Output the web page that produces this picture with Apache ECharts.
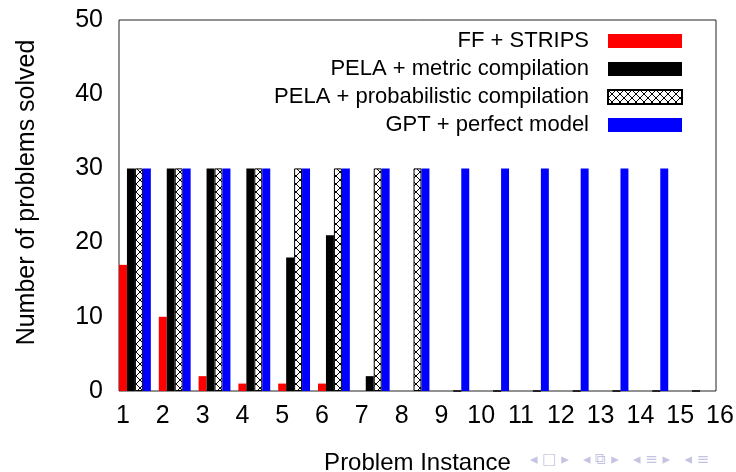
<!DOCTYPE html>
<html>
<head>
<meta charset="utf-8">
<script src="https://cdn.jsdelivr.net/npm/echarts@6/dist/echarts.min.js"></script>
<style>
  html, body { margin: 0; padding: 0; background: #fff; }
  #chart { width: 736px; height: 472px; }
</style>
</head>
<body>
<div id="chart"></div>
<script>
// problem instances 1..15 (axis runs to 16)
const instances = ["1", "2", "3", "4", "5", "6", "7", "8", "9", "10", "11", "12", "13", "14", "15"];
const ffStrips = [17, 10, 2, 1, 1, 1, 0, 0, 0, 0, 0, 0, 0, 0, 0];
const pelaMetric = [30, 30, 30, 30, 18, 21, 2, 0, 0, 0, 0, 0, 0, 0, 0];
const pelaProb = [30, 30, 30, 30, 30, 30, 30, 30, 0, 0, 0, 0, 0, 0, 0];
const gptPerfect = [30, 30, 30, 30, 30, 30, 30, 30, 30, 30, 30, 30, 30, 30, 0];
const seriesNames = [
  "FF + STRIPS",
  "PELA + metric compilation",
  "PELA + probabilistic compilation",
  "GPT + perfect model",
];

const font = "Liberation Sans, Arial, Helvetica, sans-serif";

// 交叉网格填充
const hatch = document.createElement("canvas");
hatch.width = 8;
hatch.height = 8;
const hctx = hatch.getContext("2d");
hctx.fillStyle = "#fff";
hctx.fillRect(0, 0, 8, 8);
hctx.strokeStyle = "#000";
hctx.lineWidth = 1;
hctx.beginPath();
hctx.moveTo(0, 0);
hctx.lineTo(8, 8);
hctx.moveTo(8, 0);
hctx.lineTo(0, 8);
hctx.stroke();

const chart = echarts.init(document.getElementById("chart"));

const options = {
  animation: false,
  grid: {
    left: 119,
    right: 20,
    top: 20,
    bottom: 81,
    outerBoundsMode: "none",
    containLabel: false,
    show: true,
    borderColor: "#222",
    borderWidth: 1,
  },
  legend: {
    orient: "vertical",
    right: 53,
    top: 30,
    align: "right",
    padding: 0,
    itemWidth: 74,
    itemHeight: 14,
    itemGap: 6,
    icon: "rect",
    data: seriesNames,
    textStyle: {
      color: "#000",
      fontSize: 22,
      fontFamily: font,
      padding: [0, 14, 0, 0],
    },
  },
  xAxis: [
    {
      // bars sit in bands [i, i+1]
      type: "category",
      data: instances,
      boundaryGap: true,
      position: "bottom",
      show: false,
    },
    {
      type: "value",
      min: 1,
      max: 16,
      interval: 1,
      position: "bottom",
      name: "Problem Instance",
      nameLocation: "middle",
      nameGap: 60,
      nameTextStyle: { color: "#000", fontSize: 24, fontFamily: font },
      axisLine: { show: false },
      axisTick: { show: false },
      splitLine: { show: false },
      axisLabel: {
        color: "#000",
        fontSize: 25,
        fontFamily: font,
        margin: 13,
        padding: [0, 0, 0, 8],
      },
    },
  ],
  yAxis: {
    type: "value",
    min: 0,
    max: 50,
    interval: 10,
    name: "Number of problems solved",
    nameLocation: "middle",
    nameRotate: 90,
    nameGap: 79,
    nameTextStyle: {
      color: "#000",
      fontSize: 25,
      fontFamily: font,
      padding: [0, 0, 0, 26],
    },
    axisLine: { show: false },
    axisTick: { show: false },
    splitLine: { show: false },
    axisLabel: { color: "#000", fontSize: 25, fontFamily: font, margin: 16 },
  },
  series: [
    {
      name: seriesNames[0],
      type: "bar",
      xAxisIndex: 0,
      barGap: "0%",
      barCategoryGap: "0%",
      data: ffStrips,
      itemStyle: { color: "#ff0000" },
    },
    {
      name: seriesNames[1],
      type: "bar",
      xAxisIndex: 0,
      data: pelaMetric,
      itemStyle: { color: "#000000" },
    },
    {
      name: seriesNames[2],
      type: "bar",
      xAxisIndex: 0,
      data: pelaProb,
      itemStyle: {
        color: { image: hatch, repeat: "repeat" },
        borderColor: "#000",
        borderWidth: 1,
      },
    },
    {
      name: seriesNames[3],
      type: "bar",
      xAxisIndex: 0,
      data: gptPerfect,
      itemStyle: { color: "#0000ff" },
    },
    {
      // empty slot so each group fills only 4/5 of its band
      name: "gap",
      type: "bar",
      xAxisIndex: 0,
      data: instances.map(() => "-"),
      silent: true,
    },
  ],
  graphic: [
    {
      type: "text",
      left: 530,
      top: 453,
      style: {
        text: "◂ □ ▸   ◂ ⧉ ▸   ◂ ≡ ▸   ◂ ≡",
        fill: "#c4c4e2",
        font: "15px DejaVu Sans",
      },
    },
  ],
};

chart.setOption(options);

window.addEventListener("resize", () => {
  chart.resize();
});
</script>
</body>
</html>
